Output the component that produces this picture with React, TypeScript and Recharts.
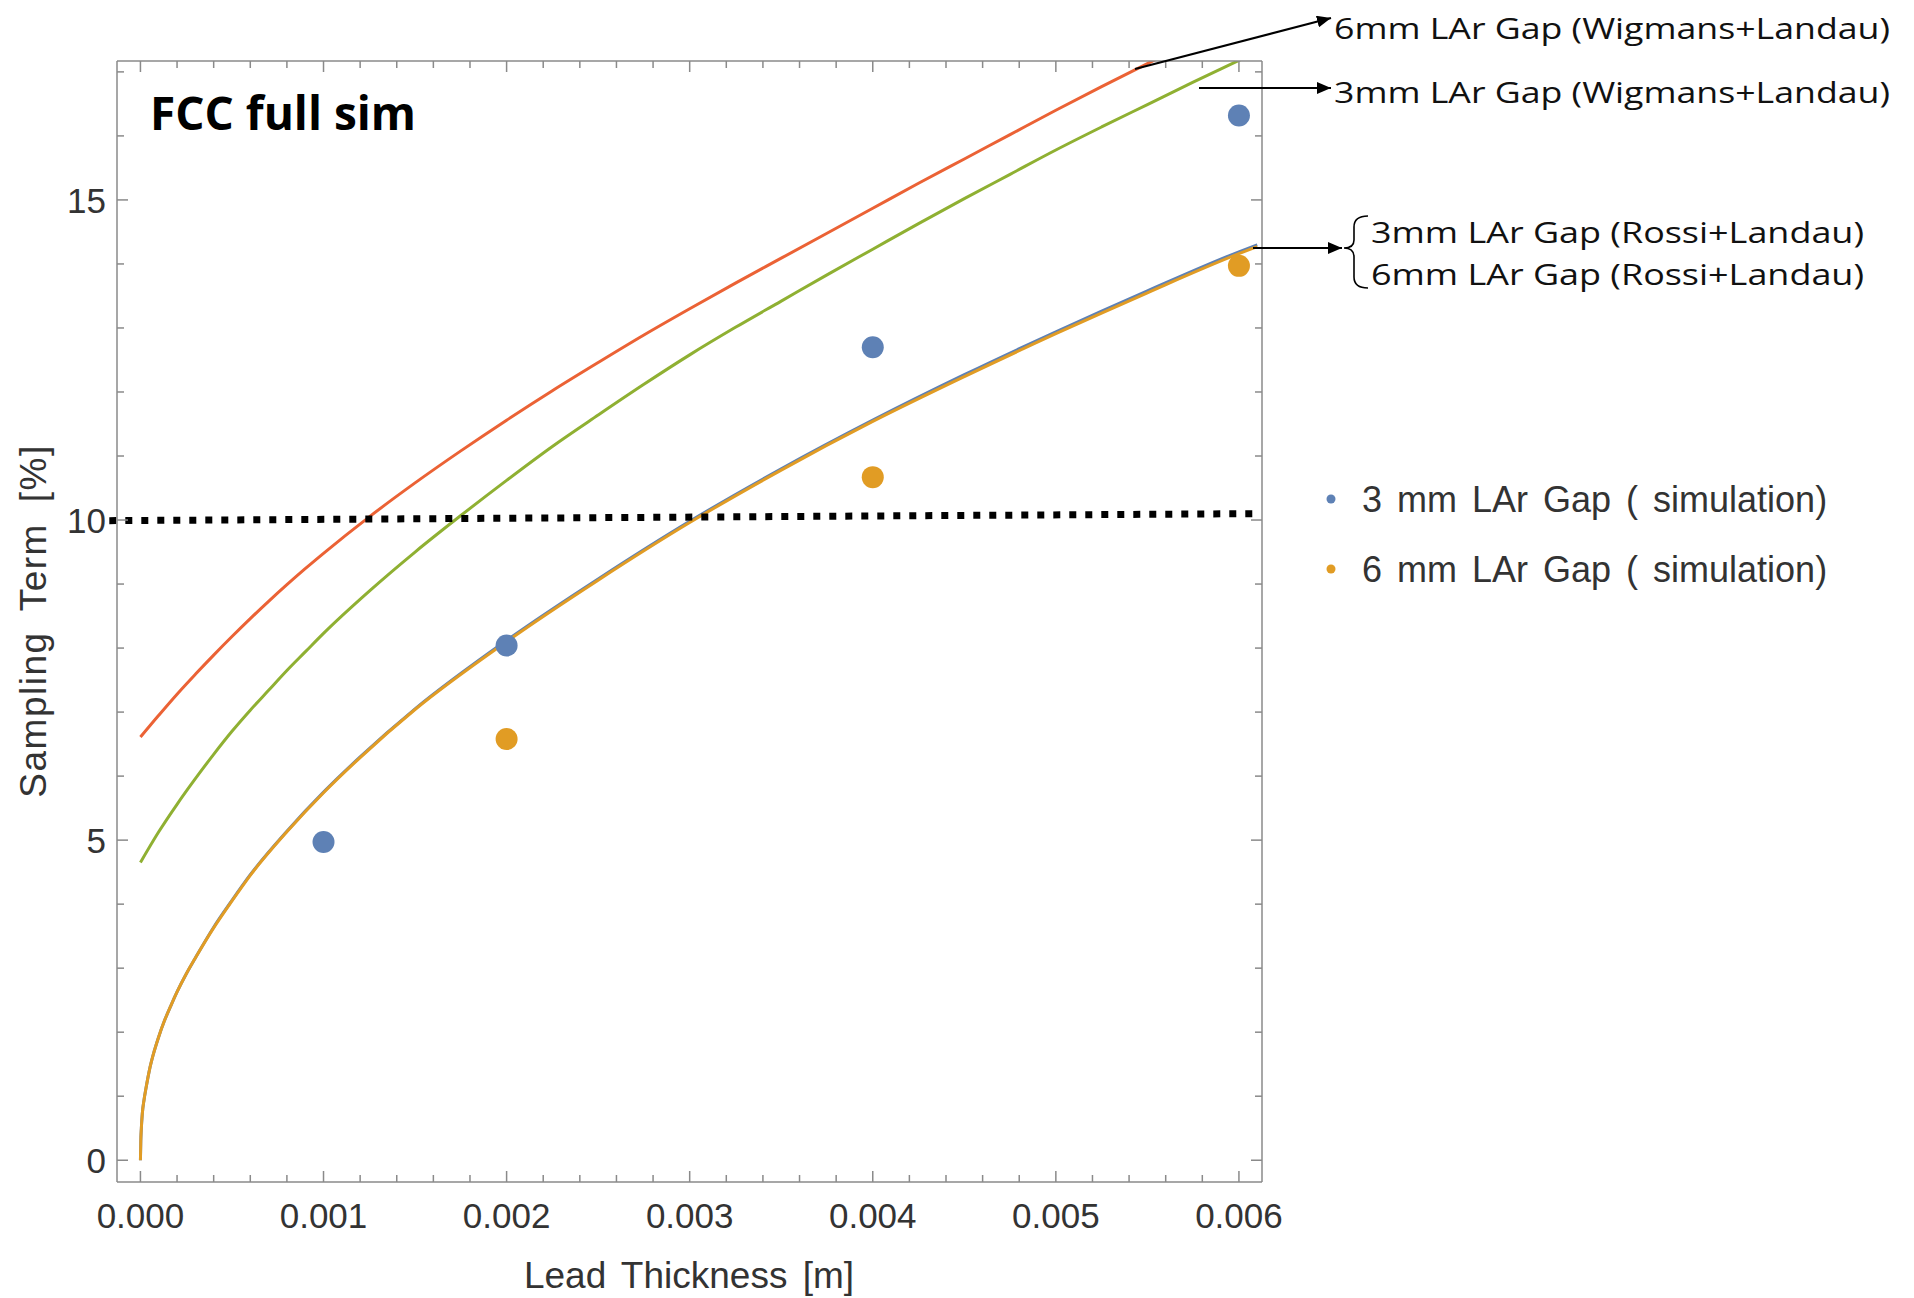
import React from "react";
import {
  ComposedChart,
  XAxis,
  YAxis,
  Line,
  Scatter,
  ReferenceLine,
} from "recharts";

// axis ranges
const X_DOMAIN = [-0.000128, 0.006126];
const Y_DOMAIN = [-0.34, 17.17];

const xMajorTicks = [0, 0.001, 0.002, 0.003, 0.004, 0.005, 0.006];
const xTickLabels = ["0.000", "0.001", "0.002", "0.003", "0.004", "0.005", "0.006"];
const xAllTicks = [
  0, 0.0002, 0.0004, 0.0006, 0.0008, 0.001, 0.0012, 0.0014, 0.0016, 0.0018,
  0.002, 0.0022, 0.0024, 0.0026, 0.0028, 0.003, 0.0032, 0.0034, 0.0036, 0.0038,
  0.004, 0.0042, 0.0044, 0.0046, 0.0048, 0.005, 0.0052, 0.0054, 0.0056, 0.0058,
  0.006,
];
const yMajorTicks = [0, 5, 10, 15];
const yTickLabels = ["0", "5", "10", "15"];
const yAllTicks = [0, 1, 2, 3, 4, 5, 6, 7, 8, 9, 10, 11, 12, 13, 14, 15, 16, 17];

// simulation points
const sim3mm = [
  { x: 0.001, y: 4.97 },
  { x: 0.002, y: 8.04 },
  { x: 0.004, y: 12.7 },
  { x: 0.006, y: 16.32 },
];
const sim6mm = [
  { x: 0.002, y: 6.58 },
  { x: 0.004, y: 10.67 },
  { x: 0.006, y: 13.97 },
];

// model curves
const rossi3mm = [
  { x: 0, y: 0 }, { x: 0.000002, y: 0.3 }, { x: 0.000005, y: 0.5 },
  { x: 0.00001, y: 0.72 }, { x: 0.00002, y: 0.95 }, { x: 0.00003, y: 1.12 },
  { x: 0.00005, y: 1.42 }, { x: 0.00007, y: 1.65 }, { x: 0.0001, y: 1.93 },
  { x: 0.00013, y: 2.17 }, { x: 0.00017, y: 2.44 }, { x: 0.0002, y: 2.63 },
  { x: 0.00025, y: 2.91 }, { x: 0.0003, y: 3.16 }, { x: 0.0004, y: 3.64 },
  { x: 0.0005, y: 4.06 }, { x: 0.0006, y: 4.46 }, { x: 0.0008, y: 5.14 },
  { x: 0.001, y: 5.75 }, { x: 0.0012, y: 6.3 }, { x: 0.0015, y: 7.05 },
  { x: 0.002, y: 8.12 }, { x: 0.0025, y: 9.08 }, { x: 0.003, y: 9.98 },
  { x: 0.0035, y: 10.8 }, { x: 0.004, y: 11.56 }, { x: 0.0045, y: 12.27 },
  { x: 0.005, y: 12.94 }, { x: 0.0055, y: 13.58 }, { x: 0.006, y: 14.19 },
  { x: 0.0061, y: 14.3 },
];
const rossi6mm = [
  { x: 0, y: 0 }, { x: 0.000002, y: 0.3 }, { x: 0.000005, y: 0.5 },
  { x: 0.00001, y: 0.72 }, { x: 0.00002, y: 0.95 }, { x: 0.00003, y: 1.12 },
  { x: 0.00005, y: 1.42 }, { x: 0.00007, y: 1.65 }, { x: 0.0001, y: 1.93 },
  { x: 0.00013, y: 2.17 }, { x: 0.00017, y: 2.44 }, { x: 0.0002, y: 2.63 },
  { x: 0.00025, y: 2.91 }, { x: 0.0003, y: 3.16 }, { x: 0.0004, y: 3.63 },
  { x: 0.0005, y: 4.05 }, { x: 0.0006, y: 4.45 }, { x: 0.0008, y: 5.13 },
  { x: 0.001, y: 5.74 }, { x: 0.0012, y: 6.29 }, { x: 0.0015, y: 7.04 },
  { x: 0.002, y: 8.1 }, { x: 0.0025, y: 9.06 }, { x: 0.003, y: 9.96 },
  { x: 0.0035, y: 10.78 }, { x: 0.004, y: 11.54 }, { x: 0.0045, y: 12.24 },
  { x: 0.005, y: 12.91 }, { x: 0.0055, y: 13.55 }, { x: 0.006, y: 14.16 },
  { x: 0.0061, y: 14.27 },
];
const wigmans3mm = [
  { x: 0, y: 4.65 }, { x: 0.0001, y: 5.13 }, { x: 0.0002, y: 5.56 },
  { x: 0.0003, y: 5.96 }, { x: 0.0004, y: 6.34 }, { x: 0.0005, y: 6.7 },
  { x: 0.0006, y: 7.03 }, { x: 0.0007, y: 7.34 }, { x: 0.0008, y: 7.65 },
  { x: 0.0009, y: 7.94 }, { x: 0.001, y: 8.23 }, { x: 0.00125, y: 8.89 },
  { x: 0.0015, y: 9.5 }, { x: 0.00175, y: 10.07 }, { x: 0.002, y: 10.62 },
  { x: 0.00225, y: 11.15 }, { x: 0.0025, y: 11.64 }, { x: 0.00275, y: 12.12 },
  { x: 0.003, y: 12.58 }, { x: 0.00325, y: 13.01 }, { x: 0.0035, y: 13.42 },
  { x: 0.00375, y: 13.83 }, { x: 0.004, y: 14.23 }, { x: 0.00425, y: 14.63 },
  { x: 0.0045, y: 15.02 }, { x: 0.00475, y: 15.4 }, { x: 0.005, y: 15.78 },
  { x: 0.00525, y: 16.14 }, { x: 0.0055, y: 16.49 }, { x: 0.00575, y: 16.84 },
  { x: 0.006, y: 17.18 }, { x: 0.0061, y: 17.32 },
];
const wigmans6mm = [
  { x: 0, y: 6.61 }, { x: 0.0001, y: 6.95 }, { x: 0.0002, y: 7.28 },
  { x: 0.0003, y: 7.59 }, { x: 0.0004, y: 7.89 }, { x: 0.0005, y: 8.18 },
  { x: 0.0006, y: 8.46 }, { x: 0.0007, y: 8.73 }, { x: 0.0008, y: 8.99 },
  { x: 0.0009, y: 9.24 }, { x: 0.001, y: 9.48 }, { x: 0.00125, y: 10.05 },
  { x: 0.0015, y: 10.58 }, { x: 0.00175, y: 11.08 }, { x: 0.002, y: 11.56 },
  { x: 0.00225, y: 12.02 }, { x: 0.0025, y: 12.46 }, { x: 0.00275, y: 12.89 },
  { x: 0.003, y: 13.3 }, { x: 0.00325, y: 13.7 }, { x: 0.0035, y: 14.09 },
  { x: 0.00375, y: 14.48 }, { x: 0.004, y: 14.87 }, { x: 0.00425, y: 15.26 },
  { x: 0.0045, y: 15.64 }, { x: 0.00475, y: 16.02 }, { x: 0.005, y: 16.4 },
  { x: 0.00525, y: 16.77 }, { x: 0.0055, y: 17.13 }, { x: 0.00575, y: 17.48 },
  { x: 0.006, y: 17.82 },
];

// the 10% target line (slightly tilted in the original)
const targetLine = [
  { x: -0.00017, y: 9.99 },
  { x: 0.0061, y: 10.1 },
];

const BLUE = "#5E81B5";
const ORANGE = "#E19C24";
const GREEN = "#8FB032";
const RED = "#EB6235";
const FRAME = "#8a8a8a";
const TICK_FONT = "'Liberation Sans', Arial, sans-serif";
const NOTE_FONT = "'Open Sans', sans-serif";

const majorIndex = (v: number, majors: number[]) =>
  majors.findIndex((m) => Math.abs(m - v) < 1e-9);

const tickText = {
  fontFamily: TICK_FONT,
  fontSize: 35,
  fill: "#333",
};

function BottomTick(p: any) {
  const i = majorIndex(p.payload.value, xMajorTicks);
  return (
    <g>
      <line x1={p.x} x2={p.x} y1={p.y} y2={p.y - (i >= 0 ? 11 : 7)} stroke={FRAME} strokeWidth={1.5} />
      {i >= 0 && (
        <text x={p.x} y={p.y + 46} textAnchor="middle" {...tickText}>
          {xTickLabels[i]}
        </text>
      )}
    </g>
  );
}

function TopTick(p: any) {
  const i = majorIndex(p.payload.value, xMajorTicks);
  return <line x1={p.x} x2={p.x} y1={p.y} y2={p.y + (i >= 0 ? 11 : 7)} stroke={FRAME} strokeWidth={1.5} />;
}

function LeftTick(p: any) {
  const i = majorIndex(p.payload.value, yMajorTicks);
  return (
    <g>
      <line x1={p.x} x2={p.x + (i >= 0 ? 11 : 7)} y1={p.y} y2={p.y} stroke={FRAME} strokeWidth={1.5} />
      {i >= 0 && (
        <text x={p.x - 11} y={p.y + 13} textAnchor="end" {...tickText}>
          {yTickLabels[i]}
        </text>
      )}
    </g>
  );
}

function RightTick(p: any) {
  const i = majorIndex(p.payload.value, yMajorTicks);
  return <line x1={p.x} x2={p.x - (i >= 0 ? 11 : 7)} y1={p.y} y2={p.y} stroke={FRAME} strokeWidth={1.5} />;
}

const dot = (color: string) => (p: any) =>
  <circle cx={p.cx} cy={p.cy} r={11} fill={color} />;

// annotation text: smaller font, stretched to the width seen in the original
function Note({ x, y, w, children }: { x: number; y: number; w: number; children: string }) {
  return (
    <text x={x} y={y} fontFamily={NOTE_FONT} fontSize={30} fill="#111"
      textLength={w} lengthAdjust="spacingAndGlyphs">
      {children}
    </text>
  );
}

export default function App() {
  const axisLine = { stroke: FRAME, strokeWidth: 1.5 };
  return (
    <div style={{ position: "absolute", left: 0, top: 0, width: 1914, height: 1298, background: "#fff" }}>
      <ComposedChart
        width={1914}
        height={1298}
        margin={{ top: 60, right: 651, bottom: 115, left: 116 }}
      >
        <XAxis xAxisId="b" type="number" dataKey="x" domain={X_DOMAIN} allowDataOverflow
          ticks={xAllTicks} interval={0} height={1} tickSize={0} tickMargin={0}
          tickLine={false} axisLine={axisLine} tick={BottomTick} />
        <XAxis xAxisId="t" orientation="top" type="number" dataKey="x" domain={X_DOMAIN} allowDataOverflow
          ticks={xAllTicks} interval={0} height={1} tickSize={0} tickMargin={0}
          tickLine={false} axisLine={axisLine} tick={TopTick} />
        <YAxis yAxisId="l" type="number" dataKey="y" domain={Y_DOMAIN} allowDataOverflow
          ticks={yAllTicks} interval={0} width={1} tickSize={0} tickMargin={0}
          tickLine={false} axisLine={axisLine} tick={LeftTick} />
        <YAxis yAxisId="r" orientation="right" type="number" dataKey="y" domain={Y_DOMAIN} allowDataOverflow
          ticks={yAllTicks} interval={0} width={1} tickSize={0} tickMargin={0}
          tickLine={false} axisLine={axisLine} tick={RightTick} />

        <Line xAxisId="b" yAxisId="l" data={wigmans6mm} dataKey="y" type="monotone"
          stroke={RED} strokeWidth={3} dot={false} isAnimationActive={false} />
        <Line xAxisId="b" yAxisId="l" data={wigmans3mm} dataKey="y" type="monotone"
          stroke={GREEN} strokeWidth={3} dot={false} isAnimationActive={false} />
        <Line xAxisId="b" yAxisId="l" data={rossi3mm} dataKey="y" type="monotone"
          stroke={BLUE} strokeWidth={3} dot={false} isAnimationActive={false} />
        <Line xAxisId="b" yAxisId="l" data={rossi6mm} dataKey="y" type="monotone"
          stroke={ORANGE} strokeWidth={3} dot={false} isAnimationActive={false} />

        <Scatter xAxisId="b" yAxisId="l" data={sim3mm} dataKey="y" shape={dot(BLUE)} isAnimationActive={false} />
        <Scatter xAxisId="b" yAxisId="l" data={sim6mm} dataKey="y" shape={dot(ORANGE)} isAnimationActive={false} />

        <ReferenceLine xAxisId="b" yAxisId="l" segment={targetLine} ifOverflow="visible"
          stroke="#000" strokeWidth={7} strokeDasharray="7 9" />
      </ComposedChart>

      <svg width={1914} height={1298} style={{ position: "absolute", left: 0, top: 0, pointerEvents: "none" }}>
        <defs>
          <marker id="ah" viewBox="0 0 14 12" refX={14} refY={6} markerWidth={14} markerHeight={12}
            markerUnits="userSpaceOnUse" orient="auto">
            <path d="M0,0 L14,6 L0,12 z" fill="#000" />
          </marker>
        </defs>

        <text x={150} y={130} fontFamily={NOTE_FONT} fontWeight={700} fontSize={46} fill="#000">
          FCC full sim
        </text>

        {/* curve annotations */}
        <line x1={1135} y1={69} x2={1331} y2={18} stroke="#000" strokeWidth={2} markerEnd="url(#ah)" />
        <Note x={1334} y={39} w={556}>6mm LAr Gap (Wigmans+Landau)</Note>
        <line x1={1199} y1={88} x2={1331} y2={88} stroke="#000" strokeWidth={2} markerEnd="url(#ah)" />
        <Note x={1334} y={103} w={556}>3mm LAr Gap (Wigmans+Landau)</Note>
        <line x1={1253} y1={248} x2={1342} y2={248} stroke="#000" strokeWidth={2} markerEnd="url(#ah)" />
        <path d="M1368,216 Q1354,216 1354,227 L1354,240 Q1354,248 1344,248 Q1354,248 1354,257 L1354,277 Q1354,288 1368,288"
          fill="none" stroke="#000" strokeWidth={1.6} />
        <Note x={1371} y={243} w={493}>3mm LAr Gap (Rossi+Landau)</Note>
        <Note x={1371} y={285} w={493}>6mm LAr Gap (Rossi+Landau)</Note>

        {/* legend */}
        <circle cx={1331} cy={499} r={4.5} fill={BLUE} />
        <text x={1362} y={512} fontFamily={TICK_FONT} fontSize={36} fill="#333" wordSpacing={5}>
          3 mm LAr Gap ( simulation)
        </text>
        <circle cx={1331} cy={569} r={4.5} fill={ORANGE} />
        <text x={1362} y={582} fontFamily={TICK_FONT} fontSize={36} fill="#333" wordSpacing={5}>
          6 mm LAr Gap ( simulation)
        </text>

        {/* axis titles */}
        <text x={689} y={1288} textAnchor="middle" fontFamily={TICK_FONT} fontSize={37} fill="#333" wordSpacing={5}>
          Lead Thickness [m]
        </text>
        <text transform="translate(46,621) rotate(-90)" textAnchor="middle" fontFamily={TICK_FONT}
          fontSize={37} fill="#333" letterSpacing={1.5} wordSpacing={9}>
          Sampling Term [%]
        </text>
      </svg>
    </div>
  );
}
